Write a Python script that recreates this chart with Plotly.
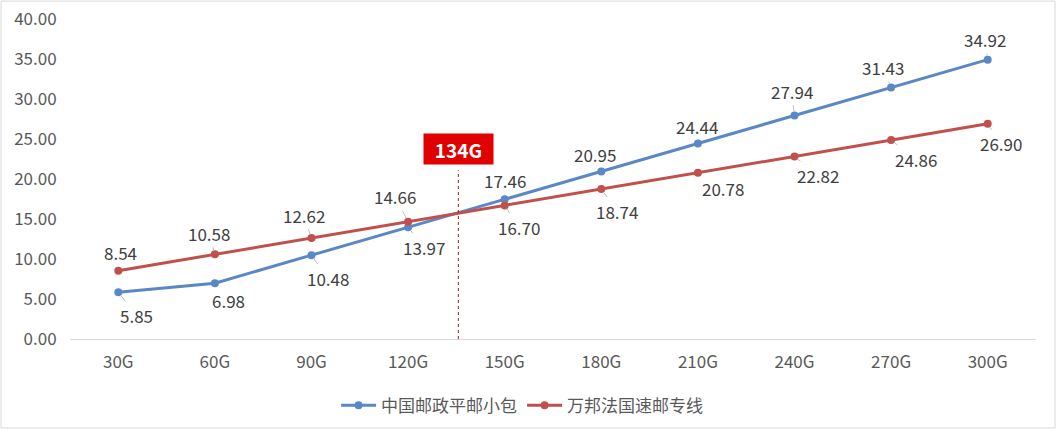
import plotly.graph_objects as go

categories = ["30G", "60G", "90G", "120G", "150G", "180G", "210G", "240G", "270G", "300G"]
china_post = [5.85, 6.98, 10.48, 13.97, 17.46, 20.95, 24.44, 27.94, 31.43, 34.92]
wanbang = [8.54, 10.58, 12.62, 14.66, 16.70, 18.74, 20.78, 22.82, 24.86, 26.90]
series_names = ["中国邮政平邮小包", "万邦法国速邮专线"]
marker_label = "134G"
marker_pos = 3.52  # where the 134G marker line is drawn on the category axis

# label pixel offsets (text centre relative to point)
blue_offsets = [(18, 23), (14, 17), (16, 23), (16, 20), (0, -19), (-6, -17), (-1, -17), (-3, -24), (-8, -20), (-3, -20)]
red_offsets = [(2, -18), (-6, -21), (-8, -23), (-13, -25), (14, 22), (16, 22), (25, 16), (23, 19), (25, 19), (13, 20)]

BLUE = "#5A88C6"
RED = "#C1504D"
FONT = "Noto Sans CJK SC, Microsoft YaHei, sans-serif"

fig = go.Figure()
fig.add_trace(go.Scatter(x=categories, y=china_post, name=series_names[0], mode="lines+markers",
                         line=dict(color=BLUE, width=3), marker=dict(size=8, color=BLUE)))
fig.add_trace(go.Scatter(x=categories, y=wanbang, name=series_names[1], mode="lines+markers",
                         line=dict(color=RED, width=3), marker=dict(size=8, color=RED)))

annotations = []
for vals, offs in ((china_post, blue_offsets), (wanbang, red_offsets)):
    for c, v, (dx, dy) in zip(categories, vals, offs):
        annotations.append(dict(x=c, y=v, text=f"{v:.2f}", showarrow=True, arrowhead=0,
                                arrowwidth=1, arrowcolor="#BFBFBF", ax=dx, ay=dy, standoff=4,
                                font=dict(size=17, color="#404040", family=FONT)))

annotations.append(dict(x=marker_pos, y=23.75, xref="x", yref="y", text=f"<b>{marker_label}</b>",
                        showarrow=False, bgcolor="#E00000", borderpad=0, width=69, height=30,
                        font=dict(size=19, color="white", family=FONT)))

fig.add_shape(type="line", x0=marker_pos, x1=marker_pos, y0=0, y1=21.1, xref="x", yref="y",
              line=dict(color="#A02020", width=1, dash="dot"))
fig.add_shape(type="rect", xref="paper", yref="paper", x0=-0.0714, x1=1.0197, y0=-0.278, y1=1.056,
              line=dict(color="#D9D9D9", width=1))

fig.update_layout(
    width=1057, height=430,
    margin=dict(l=70, r=21, t=19, b=91, autoexpand=False),
    paper_bgcolor="white", plot_bgcolor="white",
    font=dict(family=FONT, color="#595959", size=17),
    annotations=annotations,
    showlegend=True,
    legend=dict(orientation="h", x=0.468, xanchor="center", y=-0.152, yanchor="top",
                font=dict(size=17, color="#595959"), itemwidth=35, tracegroupgap=0),
    xaxis=dict(type="category", range=[-0.5, 9.5], showgrid=False, showline=True,
               linecolor="#D9D9D9", linewidth=1, ticks="outside", ticklen=8, automargin=False,
               tickcolor="rgba(0,0,0,0)", tickfont=dict(size=17, color="#595959")),
    yaxis=dict(range=[0, 40], dtick=5, tickformat=".2f", showgrid=False, zeroline=False,
               showline=False, ticks="outside", ticklen=9, tickcolor="rgba(0,0,0,0)", automargin=False,
               tickfont=dict(size=17, color="#595959")),
)

fig.write_html("out.html", config={"displayModeBar": False},
               post_script="document.body.style.margin='0';document.body.style.overflow='hidden';")
